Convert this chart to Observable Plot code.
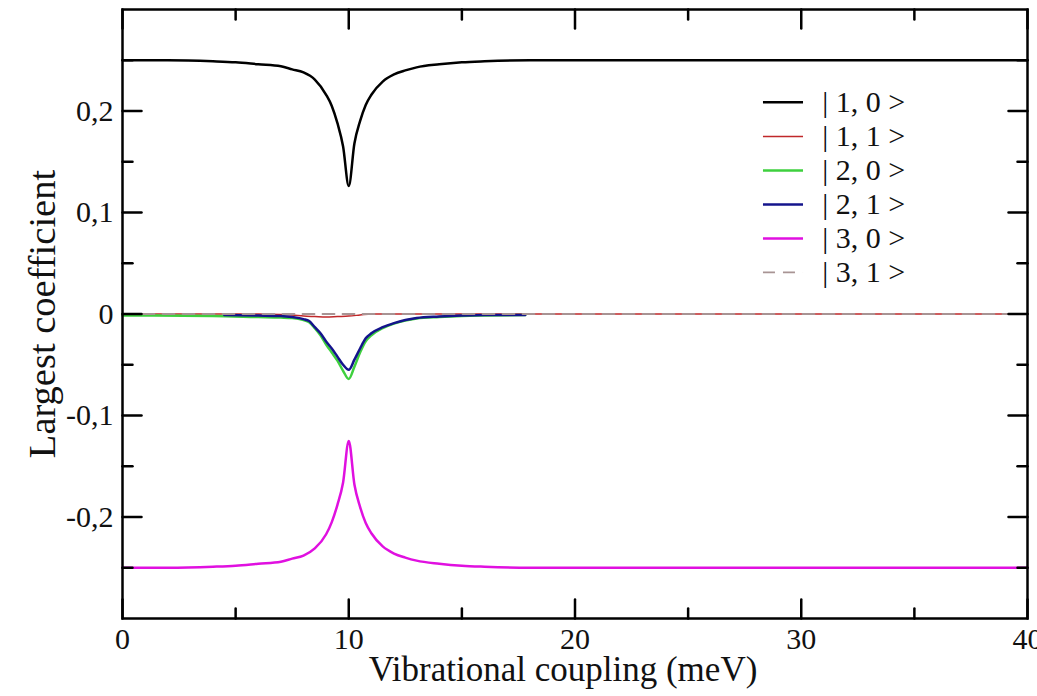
<!DOCTYPE html>
<html><head><meta charset="utf-8">
<script src="https://cdn.jsdelivr.net/npm/d3@7"></script>
<script src="https://cdn.jsdelivr.net/npm/@observablehq/plot@0.6"></script>
<style>body{margin:0;background:#fff} svg{display:block}</style>
</head><body><div id="chart"></div>
<script>
// ---- data ----
const seriesNames = ["| 1, 0 >", "| 1, 1 >", "| 2, 0 >", "| 2, 1 >", "| 3, 0 >", "| 3, 1 >"];

const xState10 = [0, 2, 4, 5, 6, 7, 7.5, 8, 8.5, 9, 9.25, 9.5, 9.75, 10, 10.25, 10.5, 10.75, 11, 11.5, 12, 12.5, 13, 14, 15, 16, 18, 20, 30, 40];
const yState10 = [0.25, 0.25, 0.249, 0.248, 0.246, 0.244, 0.241, 0.238, 0.231, 0.216, 0.205, 0.188, 0.165, 0.126, 0.168, 0.19, 0.206, 0.216, 0.229, 0.236, 0.24, 0.243, 0.246, 0.248, 0.249, 0.25, 0.25, 0.25, 0.25];

const xState11 = [0, 6, 7, 7.5, 8, 8.5, 9, 9.5, 10, 10.5, 11, 20, 40];
const yState11 = [0, 0, -0.0005, -0.001, -0.002, -0.0025, -0.003, -0.0025, -0.002, -0.001, 0, 0, 0];

const xState20 = [0, 4, 6, 7, 7.5, 8, 8.25, 8.5, 8.75, 9, 9.25, 9.5, 9.75, 10, 10.25, 10.5, 10.75, 11, 11.5, 12, 12.5, 13, 14, 15, 16, 17.8];
const yState20 = [-0.0015, -0.002, -0.003, -0.0035, -0.004, -0.006, -0.008, -0.014, -0.021, -0.03, -0.038, -0.046, -0.056, -0.064, -0.052, -0.038, -0.027, -0.021, -0.014, -0.0095, -0.0065, -0.0045, -0.003, -0.002, -0.0015, -0.001];

const xState21 = [4.5, 6, 7, 7.5, 8, 8.25, 8.5, 8.75, 9, 9.25, 9.5, 9.75, 10, 10.25, 10.5, 10.75, 11, 11.5, 12, 12.5, 13, 14, 15, 16, 17.8];
const yState21 = [-0.001, -0.0015, -0.002, -0.003, -0.005, -0.007, -0.013, -0.019, -0.027, -0.034, -0.042, -0.05, -0.055, -0.045, -0.034, -0.024, -0.019, -0.013, -0.009, -0.006, -0.004, -0.0025, -0.0015, -0.001, -0.001];

const xState30 = [0, 2, 4, 5, 6, 7, 7.5, 8, 8.5, 9, 9.25, 9.5, 9.75, 10, 10.25, 10.5, 10.75, 11, 11.5, 12, 12.5, 13, 14, 15, 16, 18, 20, 30, 40];
const yState30 = [-0.25, -0.25, -0.249, -0.248, -0.246, -0.244, -0.241, -0.238, -0.231, -0.217, -0.205, -0.188, -0.166, -0.125, -0.168, -0.19, -0.206, -0.216, -0.229, -0.236, -0.24, -0.243, -0.246, -0.248, -0.249, -0.25, -0.25, -0.25, -0.25];

const xState31 = [0, 40];
const yState31 = [0, 0];

const xTicksMajor = [0, 10, 20, 30, 40];
const xTicksMinor = [5, 15, 25, 35];
const yTicksMajor = [-0.2, -0.1, 0, 0.1, 0.2];
const yTicksMinor = [-0.25, -0.15, -0.05, 0.05, 0.15, 0.25];

const xTitle = "Vibrational coupling (meV)";
const yTitle = "Largest coefficient";

// ---- styles ----
const serif = "Liberation Serif, Times New Roman, serif";
const styles = [
  {color: "#000000", width: 2.5, dash: null},
  {color: "#c0282a", width: 1.5, dash: null},
  {color: "#3ed03e", width: 2.5, dash: null},
  {color: "#14148c", width: 2.5, dash: null},
  {color: "#e010e0", width: 2.5, dash: null},
  {color: "#a89494", width: 1.8, dash: "12,8"}
];
const xs = [xState10, xState11, xState20, xState21, xState30, xState31];
const ys = [yState10, yState11, yState20, yState21, yState30, yState31];
const series = seriesNames.map((name, i) => ({
  name, ...styles[i],
  rows: xs[i].map((x, j) => ({x, y: ys[i][j]}))
}));

// legend placement (in data units)
const legendX1 = 28.33, legendX2 = 30.1, legendTextX = 30.93, legendY0 = 0.2085, legendStep = 0.0335;
const legendRows = series.map((s, i) => ({...s, y: legendY0 - i * legendStep}));

const tickShape = {draw(ctx, l) { ctx.moveTo(0, 0); ctx.lineTo(0, -l); }};
const fmt = d => String(Math.round(d * 10) / 10).replace(".", ",");
const tk = {stroke: "black", strokeWidth: 2.5, anchor: "start", shape: tickShape};

const marks = [];
for (const s of series) {
  marks.push(Plot.line(s.rows, {x: "x", y: "y", stroke: s.color, strokeWidth: s.width, strokeDasharray: s.dash, curve: "monotone-x"}));
}
// inside ticks on all four sides
marks.push(
  Plot.vector(yTicksMajor, {y: d => d, frameAnchor: "left", rotate: 90, length: 19, ...tk}),
  Plot.vector(yTicksMinor, {y: d => d, frameAnchor: "left", rotate: 90, length: 10, ...tk}),
  Plot.vector(yTicksMajor, {y: d => d, frameAnchor: "right", rotate: -90, length: 19, ...tk}),
  Plot.vector(yTicksMinor, {y: d => d, frameAnchor: "right", rotate: -90, length: 10, ...tk}),
  Plot.vector(xTicksMajor, {x: d => d, frameAnchor: "bottom", rotate: 0, length: 19, ...tk}),
  Plot.vector(xTicksMinor, {x: d => d, frameAnchor: "bottom", rotate: 0, length: 10, ...tk}),
  Plot.vector(xTicksMajor, {x: d => d, frameAnchor: "top", rotate: 180, length: 19, ...tk}),
  Plot.vector(xTicksMinor, {x: d => d, frameAnchor: "top", rotate: 180, length: 10, ...tk}),
  Plot.frame({stroke: "black", strokeWidth: 2.5}),
  Plot.axisY({ticks: yTicksMajor, tickSize: 0, tickPadding: 9, tickFormat: fmt, fontSize: 30, fontFamily: serif, label: null}),
  Plot.axisX({ticks: xTicksMajor, tickSize: 0, tickPadding: 9, tickFormat: fmt, fontSize: 30, fontFamily: serif, label: null}),
  Plot.text([xTitle], {frameAnchor: "bottom", dy: 62, dx: -12, text: d => d, fontSize: 35, fontFamily: serif, fill: "#111", textAnchor: "middle"}),
  Plot.text([yTitle], {frameAnchor: "left", dx: -80, rotate: -90, text: d => d, fontSize: 38.5, fontFamily: serif, fill: "#111", textAnchor: "middle"})
);
// legend
for (const r of legendRows) {
  marks.push(Plot.ruleY([r], {y: "y", x1: () => legendX1, x2: () => legendX2, stroke: r.color, strokeWidth: r.width, strokeDasharray: r.dash}));
}
marks.push(Plot.text(legendRows, {x: () => legendTextX, y: "y", text: "name", textAnchor: "start", fontSize: 30, fontFamily: serif, fill: "#111"}));

const chart = Plot.plot({
  width: 1037, height: 696,
  marginLeft: 122, marginRight: 10, marginTop: 9, marginBottom: 78,
  x: {domain: [0, 40]},
  y: {domain: [-0.3, 0.3]},
  style: {background: "#fff", color: "#111", fontFamily: serif},
  marks
});
document.getElementById("chart").appendChild(chart);
</script>
</body></html>
